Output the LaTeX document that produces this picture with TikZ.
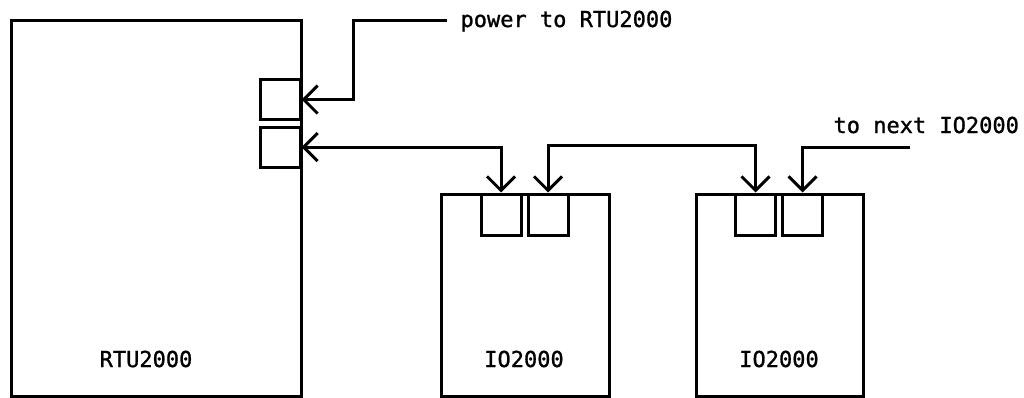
\documentclass[tikz,border=0pt]{standalone}
\usepackage{fontspec}
\setmonofont[FakeBold=1.2]{DejaVu Sans Mono}
\usetikzlibrary{arrows.meta}
\begin{document}
\begin{tikzpicture}[x=1pt,y=-1pt,line width=3pt,
  box/.style={draw,inner sep=0pt,minimum width=#1},
  port/.style={draw,inner sep=0pt,minimum width=40pt,minimum height=40pt},
  lbl/.style={font=\ttfamily\fontsize{22}{26}\selectfont,inner sep=0pt,anchor=base},
  arr/.style={-{Straight Barb[length=14pt,width=28pt]}},
  arrb/.style={{Straight Barb[length=14pt,width=28pt]}-{Straight Barb[length=14pt,width=28pt]}}]
\useasboundingbox (0,0) rectangle (1024,397);
% RTU
\node[box=290pt,minimum height=376pt] (rtu) at (156,208) {};
\node[port] (r1) at (280,99.5) {};
\node[port] (r2) at (280,147) {};
\node[lbl] (rtul) at (146,367) {RTU2000};
% IO boxes
\node[box=168pt,minimum height=202pt] (io1) at (525,295) {};
\node[port,minimum height=41pt] (io1a) at (501,214.5) {};
\node[port,minimum height=41pt] (io1b) at (548,214.5) {};
\node[lbl] (io1l) at (524,367) {IO2000};
\node[box=167pt,minimum height=202pt] (io2) at (779.5,295) {};
\node[port,minimum height=41pt] (io2a) at (755.5,214.5) {};
\node[port,minimum height=41pt] (io2b) at (802.5,214.5) {};
\node[lbl] (io2l) at (779,367) {IO2000};
% texts
\node[lbl,anchor=base west] (pwl) at (459,27) {power to RTU2000};
\node[lbl,anchor=base west] (nxl) at (832,133) {to next IO2000};
% connectors
\coordinate (pw) at (447,20);
\coordinate (pwk) at (353,20);
\draw[arr] (pw) -- (pwk) |- (r1.east);
\draw[arrb] (r2.east) -| (io1a.north);
\draw[arrb] (io1b.north) -- ++(0,-47) -| (io2a.north);
\coordinate (nx) at (910,147);
\draw[arr] (nx) -| (io2b.north);
\end{tikzpicture}
\end{document}
